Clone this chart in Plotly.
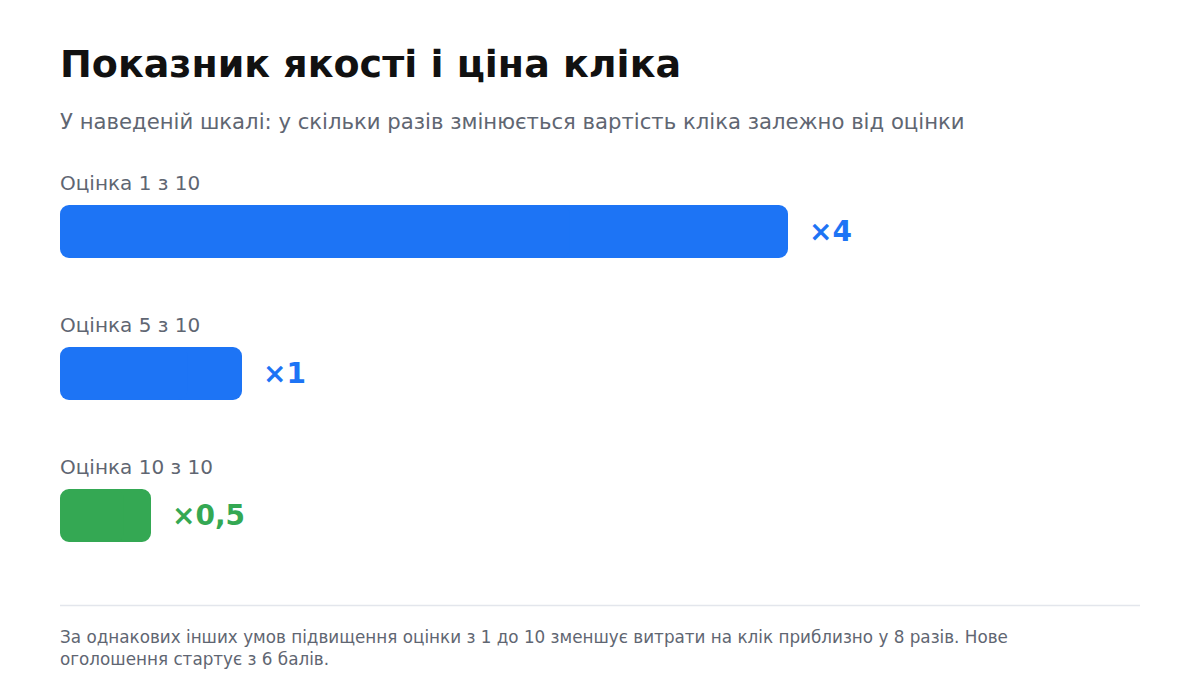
import plotly.graph_objects as go

categories = ["Оцінка 1 з 10", "Оцінка 5 з 10", "Оцінка 10 з 10"]
values = [4, 1, 0.5]
value_labels = ["×4", "×1", "×0,5"]
colors = ["#1d74f5", "#1d74f5", "#34a853"]

title = "Показник якості і ціна кліка"
subtitle = "У наведеній шкалі: у скільки разів змінюється вартість кліка залежно від оцінки"
footnote = ("За однакових інших умов підвищення оцінки з 1 до 10 зменшує витрати на клік приблизно у 8 разів. Нове<br>"
            "оголошення стартує з 6 балів.")

FONT = "DejaVu Sans"
GRAY = "#5f6672"

W, H = 1200, 700
ML, MR, MT, MB = 60, 60, 160, 100
plot_h = H - MT - MB
plot_w = W - ML - MR
px_per_unit = 142.0
bar_px = 53.0
first_center = 231.5

def py(p):
    return (H - MB - p) / plot_h

ypos = list(range(len(categories)))
y_top = -(first_center - MT) / px_per_unit
y_bot = y_top + plot_h / px_per_unit
x_max = 4 * plot_w / 728.0

fig = go.Figure()
# each bar drawn as two overlapping parts so both ends get rounded corners
mid_hi = [v * 0.3 for v in values]
mid_lo = [v * 0.7 for v in values]
fig.add_trace(go.Bar(
    x=[v - m for v, m in zip(values, mid_hi)], base=mid_hi, y=ypos, orientation="h",
    marker=dict(color=colors, cornerradius=9, line=dict(width=0)),
    width=bar_px / px_per_unit, hoverinfo="skip",
))
fig.add_trace(go.Bar(
    x=[-m for m in mid_lo], base=mid_lo, y=ypos, orientation="h",
    marker=dict(color=colors, cornerradius=9, line=dict(width=0)),
    width=bar_px / px_per_unit, hoverinfo="skip",
))

annotations = []
for i, (c, v, t, col) in enumerate(zip(categories, values, value_labels, colors)):
    annotations.append(dict(x=0, y=i, xref="x", yref="y", text=c, showarrow=False,
                            xanchor="left", yanchor="middle", yshift=49, xshift=-2,
                            font=dict(family=FONT, size=20, color=GRAY)))
    annotations.append(dict(x=v, y=i, xref="x", yref="y", text="<b>" + t + "</b>", showarrow=False,
                            xanchor="left", yanchor="middle", xshift=19,
                            font=dict(family=FONT, size=28, color=col)))

annotations.append(dict(x=0, y=py(64), xref="paper", yref="paper", text="<b>" + title + "</b>",
                        showarrow=False, xanchor="left", yanchor="middle", xshift=-2,
                        font=dict(family=FONT, size=38, color="#111111")))
annotations.append(dict(x=0, y=py(121), xref="paper", yref="paper", text=subtitle,
                        showarrow=False, xanchor="left", yanchor="middle", xshift=-2,
                        font=dict(family=FONT, size=21.2, color=GRAY)))
annotations.append(dict(x=0, y=py(648), xref="paper", yref="paper", text=footnote,
                        showarrow=False, xanchor="left", yanchor="middle", align="left", xshift=-2,
                        font=dict(family=FONT, size=16.8, color=GRAY)))

fig.update_layout(
    width=W, height=H,
    margin=dict(l=ML, r=MR, t=MT, b=MB, pad=0),
    paper_bgcolor="white", plot_bgcolor="white",
    showlegend=False, barmode="overlay", hovermode=False,
    xaxis=dict(range=[0, x_max], visible=False, fixedrange=True),
    yaxis=dict(range=[y_bot, y_top], visible=False, fixedrange=True),
    annotations=annotations,
    shapes=[dict(type="line", xref="paper", yref="paper", x0=0, x1=1, y0=py(605.5), y1=py(605.5),
                 line=dict(color="#e3e6ec", width=1.5))],
)

fig.write_html("out.html", config={"displayModeBar": False},
               post_script="document.body.style.margin='0';")
